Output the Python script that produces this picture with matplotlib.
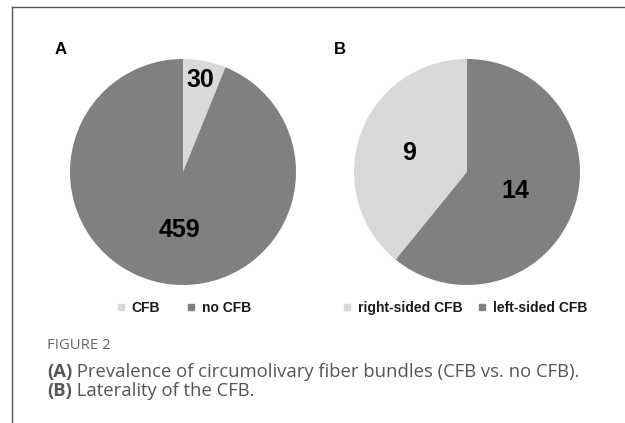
import matplotlib
matplotlib.use("Agg")
import matplotlib.pyplot as plt
from matplotlib.lines import Line2D
import numpy as np

# ---- data ----
cats_a = ["CFB", "no CFB"]
vals_a = [30, 459]
cats_b = ["right-sided CFB", "left-sided CFB"]
vals_b = [9, 14]
panel_letters = ["A", "B"]
caption_head = "FIGURE 2"
caption_lines = [("(A)", " Prevalence of circumolivary fiber bundles (CFB vs. no CFB)."),
                 ("(B)", " Laterality of the CFB.")]

# ---- style ----
LIGHT = "#d9d9d9"
DARK = "#808080"
W, H = 625, 423
fig = plt.figure(figsize=(W / 100, H / 100), dpi=100)
fig.patch.set_facecolor("white")
FONT = "Liberation Sans"

def px_axes(cx, cy, r):
    return fig.add_axes([(cx - r) / W, 1 - (cy + r) / H, 2 * r / W, 2 * r / H])

R = 113
# Panel A
axA = px_axes(183, 172, R)
wA, _ = axA.pie(vals_a, colors=[LIGHT, DARK], startangle=90, counterclock=False,
                radius=1, wedgeprops=dict(linewidth=0))
# Panel B
axB = px_axes(467, 172, R)
wB, _ = axB.pie(vals_b, colors=[LIGHT, DARK], startangle=90, counterclock=True,
                radius=1, wedgeprops=dict(linewidth=0))

label_pos_a = [(0.83, 79.6), (0.51, -93.5)]   # (radius, angle deg)
label_pos_b = [(0.54, 162.0), (0.46, -21.6)]
for ax, vals, lpos in [(axA, vals_a, label_pos_a), (axB, vals_b, label_pos_b)]:
    for v, (rr, ang) in zip(vals, lpos):
        a = np.deg2rad(ang)
        ax.text(rr * np.cos(a), rr * np.sin(a), str(v), ha="center", va="center",
                fontsize=18, fontweight="bold", family=FONT, color="black")
    ax.set_xlim(-1, 1)
    ax.set_ylim(-1, 1)
    ax.set_aspect("equal")
    ax.axis("off")

# panel letters
fig.text(61 / W, 1 - 50 / H, panel_letters[0], ha="center", va="center",
         fontsize=12, fontweight="bold", family=FONT)
fig.text(340 / W, 1 - 50 / H, panel_letters[1], ha="center", va="center",
         fontsize=12, fontweight="bold", family=FONT)

# legends
def make_legend(cats, cx, colspace):
    handles = [Line2D([], [], marker="s", linestyle="none", markersize=4.5,
                      markerfacecolor=c, markeredgecolor=c) for c in [LIGHT, DARK]]
    leg = fig.legend(handles, cats, loc="center", bbox_to_anchor=(cx / W, 1 - 308 / H),
                     ncol=2, frameon=False, handlelength=0.5, handletextpad=0.5,
                     columnspacing=colspace, borderpad=0, borderaxespad=0,
                     prop=dict(family=FONT, weight="bold", size=10))
    for t in leg.get_texts():
        t.set_color("#1a1a1a")
    return leg

make_legend(cats_a, 184.5, 2.0)
make_legend(cats_b, 465.5, 1.2)

# caption
CAP = "Open Sans"
fig.text(47 / W, 1 - 345.5 / H, caption_head, ha="left", va="center",
         fontsize=10.7, family=CAP, color="#666666")
ys = [370, 388.5]
for (b, rest), y in zip(caption_lines, ys):
    t1 = fig.text(47 / W, 1 - y / H, b, ha="left", va="center_baseline",
                  fontsize=13.3, fontweight="bold", family=CAP, color="#555555")
    plt.annotate(rest, xy=(1, 0), xycoords=t1, ha="left", va="bottom",
                 fontsize=13.3, family=CAP, color="#555555",
                 annotation_clip=False)

# border lines
fig.add_artist(Line2D([12 / W, 12 / W], [0, 1 - 7 / H], color="#555555", linewidth=1.0))
fig.add_artist(Line2D([12 / W, 1], [1 - 7 / H, 1 - 7 / H], color="#555555", linewidth=1.0))

fig.savefig("out.png", dpi=100, facecolor="white")
